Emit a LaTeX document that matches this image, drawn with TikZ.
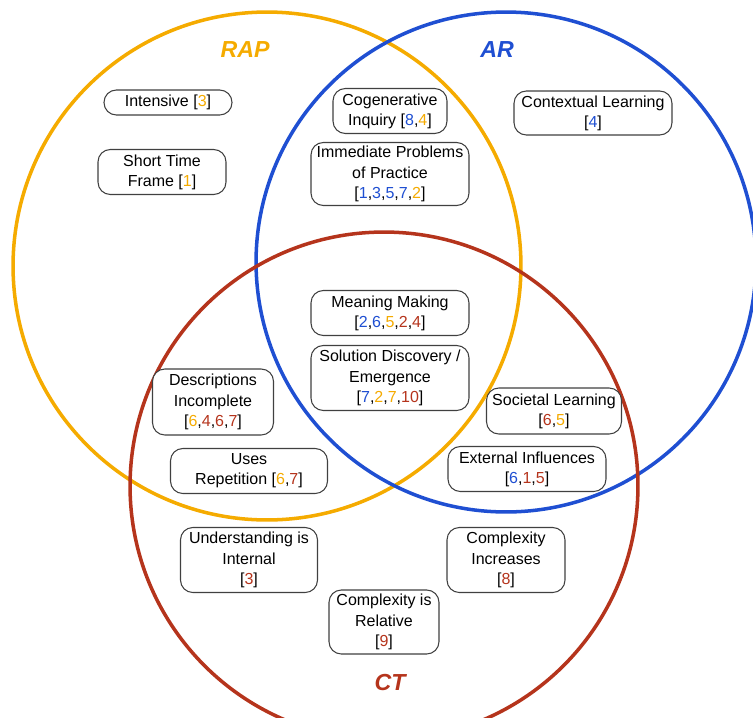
\documentclass[tikz,border=0pt]{standalone}
\usepackage{fontspec}
\setmainfont{Liberation Sans}
\usepackage{tikz}
\usetikzlibrary{positioning}
\definecolor{rapc}{HTML}{F5AB00}
\definecolor{arc}{HTML}{1F4FD2}
\definecolor{ctc}{HTML}{B5341C}
\newcommand{\rapn}[1]{\textcolor{rapc}{#1}}
\newcommand{\arn}[1]{\textcolor{arc}{#1}}
\newcommand{\ctn}[1]{\textcolor{ctc}{#1}}
\tikzset{
 box/.style
  = {rectangle, draw=black!75, fill=white, line width=0.6pt, rounded corners=7pt,
     align=center, inner sep=1pt, font=\fontsize{9.1}{11.5}\selectfont},
 ring/.style
  = {line width=2pt},
 title/.style
  = {font=\fontsize{13.2}{15}\selectfont\bfseries\itshape},
}

\begin{document}
\begin{tikzpicture}[x=0.02cm, y=-0.02cm]
\useasboundingbox (0,0) rectangle (753,717);
\clip (0,0) rectangle (753,717);

% Set RAP
\draw[ring, rapc] (267,266) circle (5.08cm);
% Set AR
\draw[ring, arc] (506,262) circle (5.0cm);
% Set CT
\draw[ring, ctc] (384,486) circle (5.08cm);

% Set labels
\node[title, text=rapc] (rap) at (245,50) {RAP};
\node[title, text=arc] (ar) at (497,50) {AR};
\node[title, text=ctc] (ct) at (390,683) {CT};

% RAP only
\node[box, minimum width=2.56cm, minimum height=0.5cm] (intensive) at (168,102.5) {Intensive [\rapn{3}]};
\node[box, minimum width=2.56cm, minimum height=0.9cm] (short) at (162,172) {Short Time\\Frame [\rapn{1}]};

% RAP and AR
\node[box, minimum width=2.28cm, minimum height=0.9cm] (cogen) at (390,111) {Cogenerative\\Inquiry [\arn{8},\rapn{4}]};
\node[box, minimum width=3.16cm, minimum height=1.26cm] (immediate) at (390,174) {Immediate Problems\\of Practice\\{}[\arn{1},\arn{3},\arn{5},\arn{7},\rapn{2}]};

% AR only
\node[box, minimum width=3.16cm, minimum height=0.88cm] (context) at (593,113) {Contextual Learning\\{}[\arn{4}]};

% All three
\node[box, minimum width=3.16cm, minimum height=0.9cm] (meaning) at (390,313) {Meaning Making\\{}[\arn{2},\arn{6},\rapn{5},\ctn{2},\ctn{4}]};
\node[box, minimum width=3.16cm, minimum height=1.3cm] (solution) at (390,378) {Solution Discovery /\\Emergence\\{}[\arn{7},\rapn{2},\rapn{7},\ctn{10}]};

% RAP and CT
\node[box, minimum width=2.42cm, minimum height=1.32cm] (descr) at (213,402) {Descriptions\\Incomplete\\{}[\rapn{6},\ctn{4},\ctn{6},\ctn{7}]};
\node[box, minimum width=3.14cm, minimum height=0.9cm] (repet) at (249,471) {Uses\\Repetition [\rapn{6},\ctn{7}]};

% AR and CT
\node[box, minimum width=2.7cm, minimum height=0.92cm] (societal) at (554,411) {Societal Learning\\{}[\ctn{6},\rapn{5}]};
\node[box, minimum width=3.16cm, minimum height=0.9cm] (external) at (527,469) {External Influences\\{}[\arn{6},\ctn{1},\ctn{5}]};

% CT only
\node[box, minimum width=2.74cm, minimum height=1.3cm] (underst) at (249,560) {Understanding is\\Internal\\{}[\ctn{3}]};
\node[box, minimum width=2.36cm, minimum height=1.3cm] (cincr) at (506,560) {Complexity\\Increases\\{}[\ctn{8}]};
\node[box, minimum width=2.2cm, minimum height=1.28cm] (crel) at (384,622) {Complexity is\\Relative\\{}[\ctn{9}]};

\end{tikzpicture}
\end{document}
